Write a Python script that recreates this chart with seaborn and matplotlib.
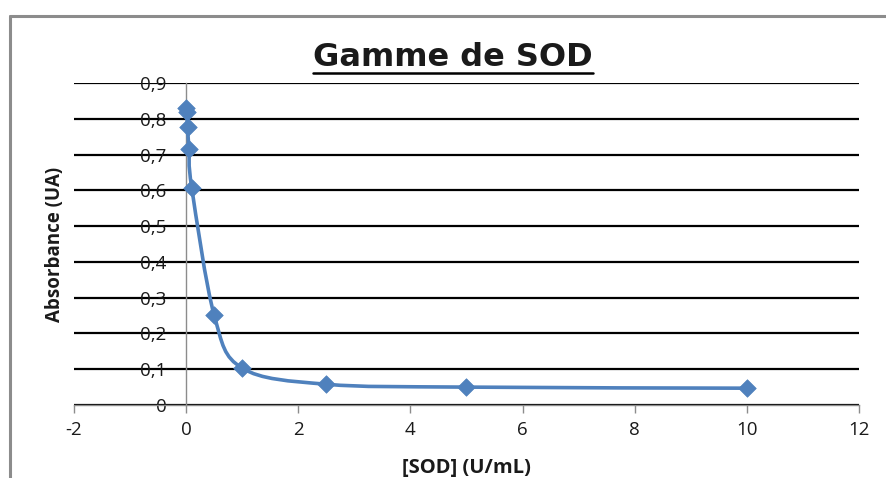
import numpy as np
import pandas as pd
import matplotlib
matplotlib.use("Agg")
import matplotlib.pyplot as plt
from matplotlib.path import Path
from matplotlib.patches import PathPatch
from matplotlib.lines import Line2D
import seaborn as sns

# ---- data ----
sod = [0, 0.01, 0.025, 0.05, 0.1, 0.5, 1, 2.5, 5, 10]
absorbance = [0.83, 0.818, 0.776, 0.715, 0.607, 0.251, 0.103, 0.058, 0.05, 0.047]
x_ticks = [-2, 0, 2, 4, 6, 8, 10, 12]
y_ticks = [0, 0.1, 0.2, 0.3, 0.4, 0.5, 0.6, 0.7, 0.8, 0.9]
y_tick_labels = ["0", "0,1", "0,2", "0,3", "0,4", "0,5", "0,6", "0,7", "0,8", "0,9"]
title = "Gamme de SOD"
x_label = "[SOD] (U/mL)"
y_label = "Absorbance (UA)"

df = pd.DataFrame({"sod": sod, "abs": absorbance})

sns.set_theme(style="white")
plt.rcParams["font.family"] = ["Open Sans", "DejaVu Sans"]

BLUE = "#4F81BD"
GRAY = "#8C8C8C"
TXT = "#1a1a1a"

fig = plt.figure(figsize=(8.87, 4.78), dpi=100)
ax = fig.add_axes([74 / 887, 1 - 405 / 478, (859 - 74) / 887, (405 - 83) / 478])
ax.set_xlim(-2, 12)
ax.set_ylim(0, 0.9)

ax.set_yticks(y_ticks)
ax.set_yticklabels(y_tick_labels)
ax.set_xticks(x_ticks)
ax.set_xticklabels([str(t) for t in x_ticks])
ax.yaxis.grid(True, color="black", linewidth=1.6)
ax.xaxis.grid(False)
ax.set_axisbelow(True)

# smoothed line (Excel-like Bezier smoothing computed in display-proportional space)
sx, sy = 56.0, 358.0
P = np.column_stack([np.array(sod) * sx, np.array(absorbance) * sy])
verts = [tuple(P[0])]
codes = [Path.MOVETO]
n = len(P)
for i in range(n - 1):
    p0 = P[i - 1] if i > 0 else P[i]
    p1 = P[i]
    p2 = P[i + 1]
    p3 = P[i + 2] if i + 2 < n else P[i + 1]
    c1 = p1 + (p2 - p0) / 6.0
    c2 = p2 - (p3 - p1) / 6.0
    verts += [tuple(c1), tuple(c2), tuple(p2)]
    codes += [Path.CURVE4] * 3
verts = [(vx / sx, vy / sy) for vx, vy in verts]
ax.add_patch(PathPatch(Path(verts, codes), facecolor="none", edgecolor=BLUE,
                       linewidth=2.6, zorder=3, capstyle="round", joinstyle="round"))

sns.scatterplot(data=df, x="sod", y="abs", ax=ax, marker="D", s=80, color=BLUE,
                edgecolor=BLUE, linewidth=0.5, zorder=4, legend=False)

# spines Excel style: y axis at x=0
for s in ["top", "right"]:
    ax.spines[s].set_visible(False)
ax.spines["left"].set_position(("data", 0))
ax.spines["left"].set_color(GRAY)
ax.spines["left"].set_linewidth(1.0)
ax.spines["left"].set_zorder(2.5)
ax.spines["bottom"].set_color(GRAY)
ax.spines["bottom"].set_linewidth(1.0)
ax.tick_params(axis="y", length=0, pad=14, labelsize=13.5, labelcolor=TXT)
ax.tick_params(axis="x", direction="out", length=5.5, width=1.0, color=GRAY,
               pad=6, labelsize=13.5, labelcolor=TXT, bottom=True)
ax.set_xlabel("")
ax.set_ylabel("")

# labels and title
fig.text(466 / 887, 1 - 468 / 478, x_label, ha="center", va="center",
         fontsize=14.5, fontweight="bold", color=TXT)
fig.text(55 / 887, 1 - 244 / 478, y_label, ha="center", va="center",
         rotation=90, fontsize=13.5, fontweight="bold", color=TXT)
t = fig.text(453 / 887, 1 - 66 / 478, title, ha="center", va="baseline",
             fontsize=23, fontweight="bold", family=["DejaVu Sans"], color=TXT)

# underline for the title
fig.canvas.draw()
bb = t.get_window_extent()
W = fig.bbox.width
uy = 1 - 73 / 478
fig.add_artist(Line2D([bb.x0 / W, bb.x1 / W], [uy, uy], color="black",
                      linewidth=1.8, transform=fig.transFigure))

# outer chart frame remnants (gray)
fig.add_artist(Line2D([10 / 887, 1], [1 - 16 / 478, 1 - 16 / 478], color=GRAY,
                      linewidth=2.2, transform=fig.transFigure))
fig.add_artist(Line2D([10 / 887, 10 / 887], [0, 1 - 16 / 478], color=GRAY,
                      linewidth=2.2, transform=fig.transFigure))

fig.savefig("out.png", dpi=100)
